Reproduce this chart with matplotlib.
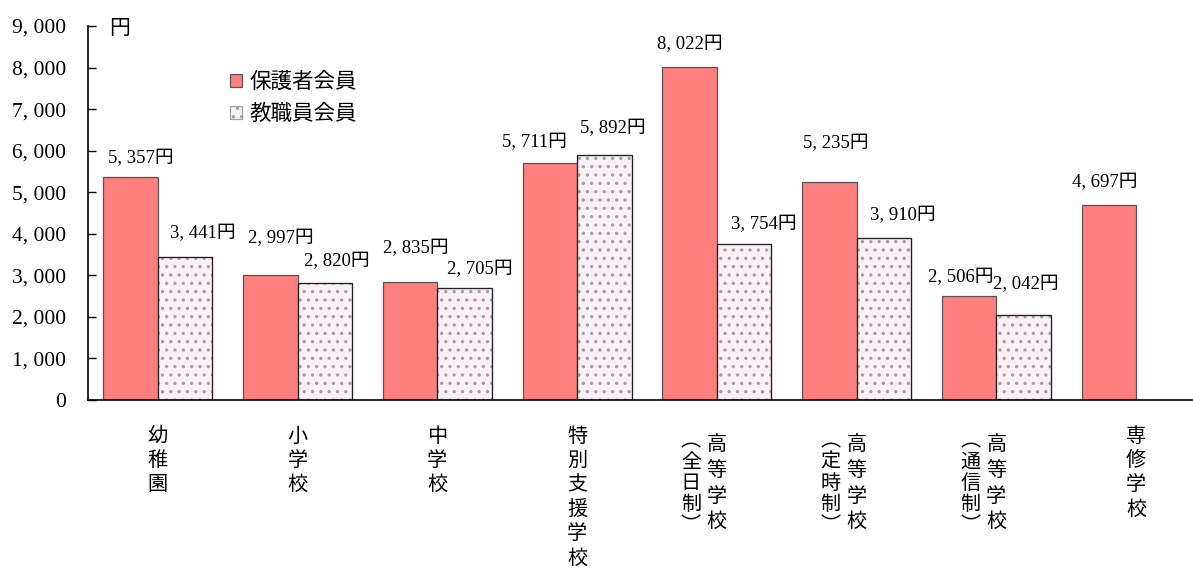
import numpy as np
import matplotlib
matplotlib.use("Agg")
import matplotlib.pyplot as plt

plt.rcParams['font.family'] = ['Liberation Serif', 'Noto Sans CJK JP', 'DejaVu Sans']
plt.rcParams['hatch.linewidth'] = 1.2

# data
categories = ['幼稚園', '小学校', '中学校', '特別支援学校',
              '高等学校（全日制）', '高等学校（定時制）', '高等学校（通信制）', '専修学校']
hogosha = [5357, 2997, 2835, 5711, 8022, 5235, 2506, 4697]
kyoshokuin = [3441, 2820, 2705, 5892, 3754, 3910, 2042, None]
series_names = ['保護者会員', '教職員会員']
yticks = [0, 1000, 2000, 3000, 4000, 5000, 6000, 7000, 8000, 9000]

# label nudges (pixels) to follow the hand-placed labels of the original
lab_dx = [[10, 10, 6, -15, 0, 6, -8, -4], [18, 12, 15, 8, 20, 19, 2, 0]]
lab_dy = [[19, 37, 34, 20, 22, 39, 18, 22], [24, 21, 18, 27, 20, 22, 31, 0]]

def fmt(v):
    return '{:,}'.format(v).replace(',', ', ')

fig = plt.figure(figsize=(11.93, 5.69), dpi=100)
ax = fig.add_axes([88 / 1193, 1 - 400 / 569, (1206 - 88) / 1193, (400 - 26) / 569])

x = np.arange(len(categories))
w = 0.39
red = '#FF7F7F'

b1 = ax.bar(x - w / 2, hogosha, w, color=red, edgecolor='#555555', linewidth=0.9,
            label=series_names[0])
kx = [xi for xi, v in zip(x, kyoshokuin) if v is not None]
kv = [v for v in kyoshokuin if v is not None]
b2 = ax.bar(np.array(kx) + w / 2, kv, w, facecolor='#FCF0F8', edgecolor='#222222',
            linewidth=0.9, hatch='..', label=series_names[1])
for p in b2:
    p.set_edgecolor('#a0a0a0')
ax.bar(np.array(kx) + w / 2, kv, w, facecolor='none', edgecolor='#222222', linewidth=0.9)

for s, (vals, xs) in enumerate([(hogosha, x - w / 2), (kyoshokuin, x + w / 2)]):
    for i, v in enumerate(vals):
        if v is None:
            continue
        ax.annotate(fmt(v) + '円', xy=(xs[i], v), xytext=(lab_dx[s][i], lab_dy[s][i]),
                    textcoords='offset pixels', ha='center', va='center', fontsize=13.5)

ax.set_xlim(-0.5, len(categories) - 0.5)
ax.set_ylim(0, 9000)
ax.set_yticks(yticks)
ax.set_yticklabels([fmt(t) for t in yticks], fontsize=15.5)
ax.tick_params(axis='y', direction='in', length=6, width=1, pad=16)
ax.set_xticks([])
for sp in ['top', 'right']:
    ax.spines[sp].set_visible(False)
ax.spines['left'].set_linewidth(1.2)
ax.spines['bottom'].set_linewidth(1.2)

fig.text(109 / 1193, 1 - 28 / 569, '円', fontsize=15, va='center', ha='left',
         family=['Noto Sans CJK JP'])

# vertical category labels
cjk = ['Noto Sans CJK JP', 'DejaVu Sans']
for i, lab in enumerate(categories):
    if '（' in lab:
        main, paren = lab.split('（')
        paren = '︵' + paren.rstrip('）') + '︶'
        for j, ch in enumerate(main):
            ax.annotate(ch, xy=(x[i], 0), xycoords=('data', 'axes fraction'),
                        xytext=(0, -45 - 25.5 * j), textcoords='offset pixels',
                        ha='center', va='center', fontsize=14.5, family=cjk)
        for j, ch in enumerate(paren):
            ax.annotate(ch, xy=(x[i], 0), xycoords=('data', 'axes fraction'),
                        xytext=(-26, -41 - 21.2 * j), textcoords='offset pixels',
                        ha='center', va='center', fontsize=14.5, family=cjk)
    else:
        for j, ch in enumerate(lab):
            ax.annotate(ch, xy=(x[i], 0), xycoords=('data', 'axes fraction'),
                        xytext=(0, -36 - 24.4 * j), textcoords='offset pixels',
                        ha='center', va='center', fontsize=14.5, family=cjk)

leg = fig.legend(handles=[b1, b2], labels=series_names, loc='upper left',
                 bbox_to_anchor=(230 / 1193, 1 - 71 / 569), frameon=False,
                 prop={'family': cjk, 'size': 15.5}, handlelength=0.55, handleheight=0.55,
                 handletextpad=0.35, labelspacing=0.45, borderaxespad=0, borderpad=0)

fig.savefig('out.png', dpi=100)
